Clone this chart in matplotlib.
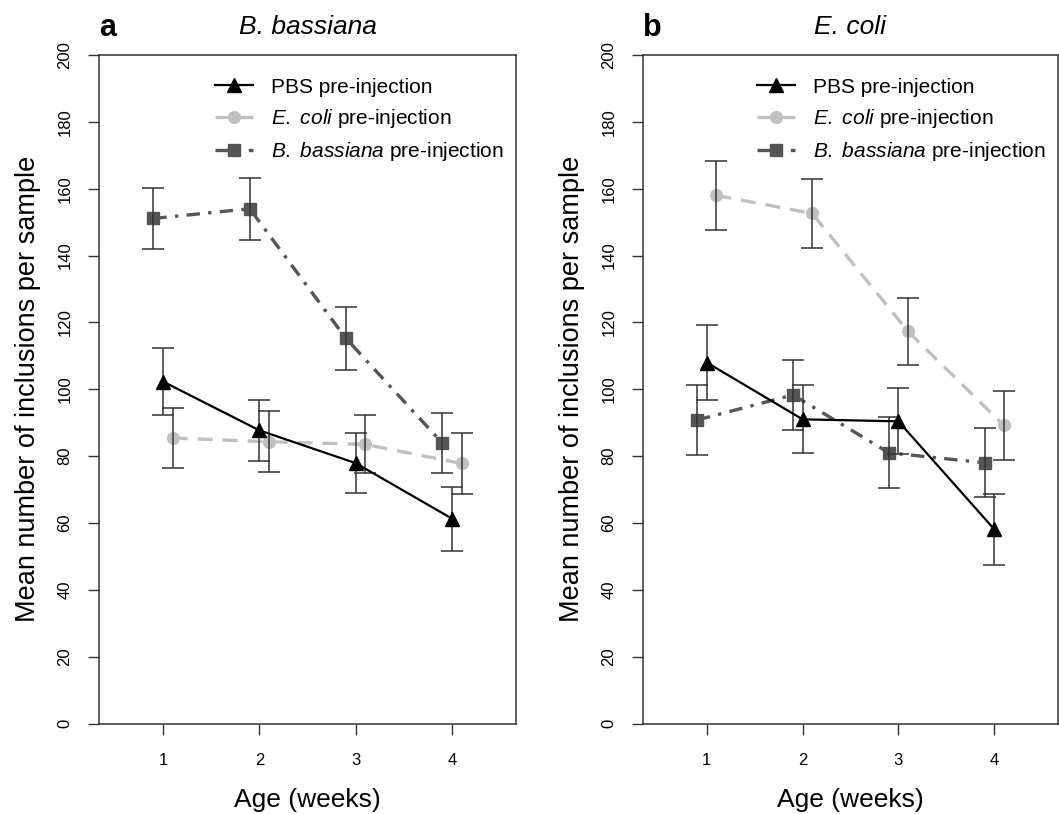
import numpy as np
import matplotlib
matplotlib.use("Agg")
import matplotlib.pyplot as plt

plt.rcParams['font.family'] = ['Liberation Sans', 'DejaVu Sans']
plt.rcParams['mathtext.fontset'] = 'custom'
plt.rcParams['mathtext.rm'] = 'Liberation Sans'
plt.rcParams['mathtext.it'] = 'Liberation Sans:italic'

weeks = [1, 2, 3, 4]

# panel a: B. bassiana challenge
a_pbs = [102.3, 87.7, 77.9, 61.3]
a_pbs_err = [9.9, 9.2, 9.0, 9.6]
a_eco = [85.4, 84.3, 83.5, 77.8]
a_eco_err = [9.1, 9.1, 8.7, 9.2]
a_bba = [151.1, 154.0, 115.2, 83.9]
a_bba_err = [9.1, 9.2, 9.4, 9.0]

# panel b: E. coli challenge
b_pbs = [108.0, 91.0, 90.4, 58.1]
b_pbs_err = [11.2, 10.2, 9.9, 10.6]
b_eco = [158.0, 152.6, 117.3, 89.2]
b_eco_err = [10.3, 10.3, 9.9, 10.4]
b_bba = [90.8, 98.3, 81.0, 78.0]
b_bba_err = [10.5, 10.4, 10.6, 10.3]

titles = ["B. bassiana", "E. coli"]
letters = ["a", "b"]

fig = plt.figure(figsize=(10.59, 8.14), dpi=100)
ax1 = fig.add_axes([99/1059, 1-723.5/814, 417/1059, 668.5/814])
ax2 = fig.add_axes([643/1059, 1-723.5/814, 415/1059, 668.5/814])

panels = [
    (ax1, a_pbs, a_pbs_err, a_eco, a_eco_err, a_bba, a_bba_err),
    (ax2, b_pbs, b_pbs_err, b_eco, b_eco_err, b_bba, b_bba_err),
]

x = np.array(weeks, dtype=float)
ebar = dict(ecolor='#333333', elinewidth=1.1, capsize=8, capthick=1.1, zorder=4)

for i, (ax, pbs, pbs_e, eco, eco_e, bba, bba_e) in enumerate(panels):
    # error bars first
    ax.errorbar(x - 0.1, bba, yerr=bba_e, fmt='none', **ebar)
    ax.errorbar(x, pbs, yerr=pbs_e, fmt='none', **ebar)
    ax.errorbar(x + 0.1, eco, yerr=eco_e, fmt='none', **ebar)

    ax.plot(x, pbs, color='black', lw=1.6, marker='^', ms=10,
            label='PBS pre-injection', zorder=5)
    ax.plot(x + 0.1, eco, color='#c0c0c0', lw=2.4, marker='o', ms=8.5,
            dashes=(4.5, 3), label=r'$\mathit{E.\ coli}$ pre-injection', zorder=3)
    ax.plot(x - 0.1, bba, color='#555555', lw=2.4, marker='s', ms=8,
            dashes=(4, 2.5, 1, 2.5), label=r'$\mathit{B.\ bassiana}$ pre-injection', zorder=3)

    ax.set_xlim(0.335, 4.665)
    ax.set_ylim(0, 200)
    ax.set_xticks(weeks)
    ax.set_yticks(np.arange(0, 201, 20))
    ax.tick_params(axis='both', direction='out', length=8, width=1, color='#333333',
                   labelsize=12)
    ax.tick_params(axis='x', pad=13)
    ax.tick_params(axis='y', pad=11)
    for lab in ax.get_yticklabels():
        lab.set_rotation(90)
        lab.set_va('center')
    for sp in ax.spines.values():
        sp.set_color('#333333')
        sp.set_linewidth(1.1)

    ax.set_xlabel('Age (weeks)', fontsize=19, labelpad=15)
    ax.set_ylabel('Mean number of inclusions per sample', fontsize=19.5, labelpad=12)
    ax.set_title(titles[i], fontsize=19, style='italic', pad=15)
    ax.text(0.0, 1.04, letters[i], transform=ax.transAxes, fontsize=22,
            fontweight='bold', va='center', ha='left')

    leg = ax.legend(loc='upper right', frameon=False, fontsize=15,
                    handlelength=1.8, labelspacing=0.5, borderaxespad=0.2,
                    handletextpad=0.85, bbox_to_anchor=(1.0, 0.985))

fig.savefig('out.png', dpi=100)
